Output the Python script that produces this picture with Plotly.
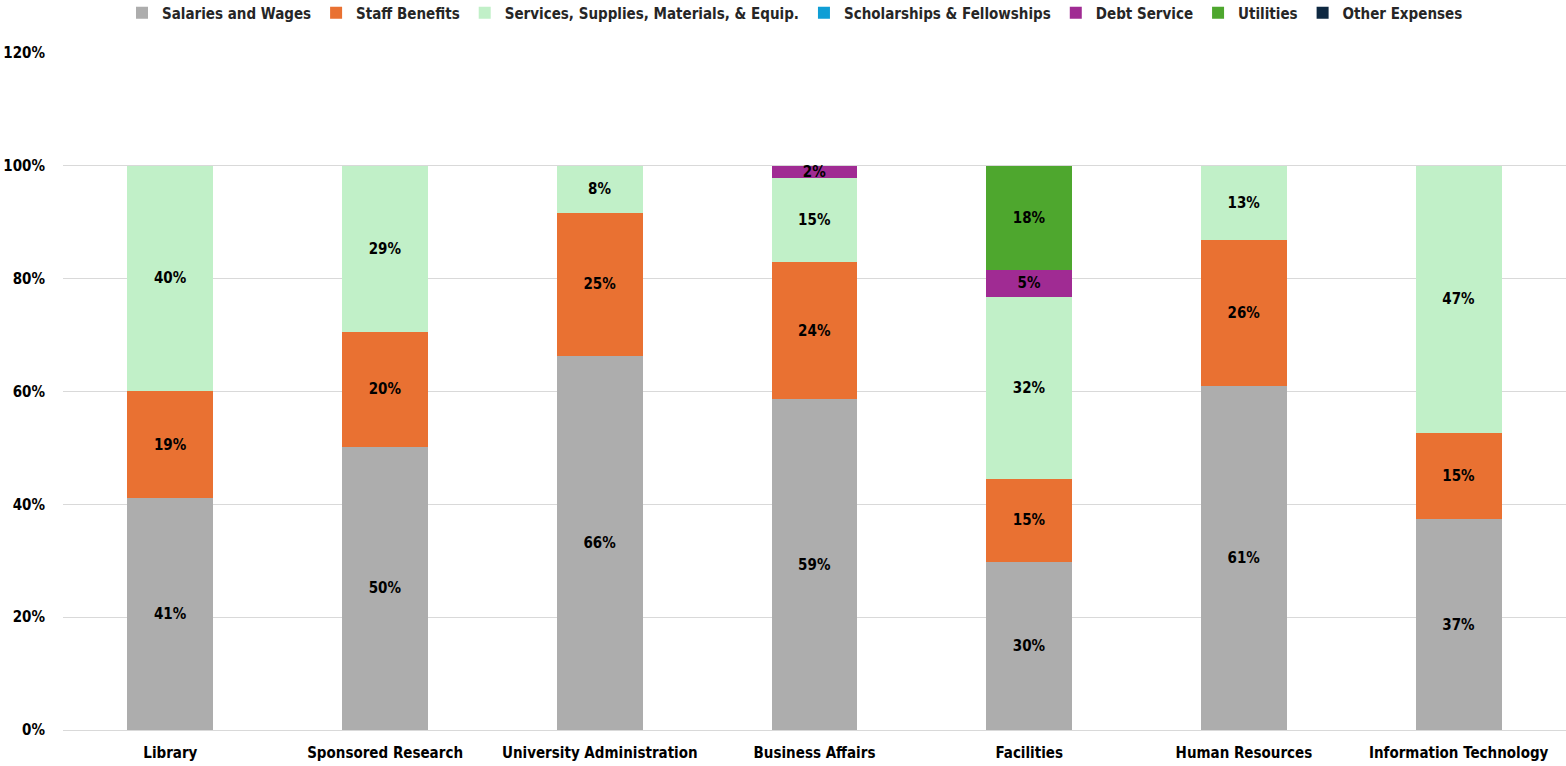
import plotly.graph_objects as go

categories = ["Library", "Sponsored Research", "University Administration", "Business Affairs",
              "Facilities", "Human Resources", "Information Technology"]

salaries = [41.1, 50.2, 66.3, 58.6, 29.8, 61.0, 37.4]
benefits = [19.0, 20.4, 25.4, 24.4, 14.7, 25.9, 15.3]
services = [39.9, 29.4, 8.3, 14.9, 32.3, 13.1, 47.3]
scholarships = [0, 0, 0, 0, 0, 0, 0]
debt = [0, 0, 0, 2.1, 4.8, 0, 0]
utilities = [0, 0, 0, 0, 18.4, 0, 0]
other = [0, 0, 0, 0, 0, 0, 0]

series_names = ["Salaries and Wages", "Staff Benefits", "Services, Supplies, Materials, & Equip.",
                "Scholarships & Fellowships", "Debt Service", "Utilities", "Other Expenses"]
series_values = [salaries, benefits, services, scholarships, debt, utilities, other]
colors = ["#ADADAD", "#E97132", "#C1F0C8", "#0F9ED5", "#A02B93", "#4EA72E", "#0E2841"]

W, H = 1566, 766
FONT = "Liberation Sans Narrow, Arial Narrow, DejaVu Sans Condensed, sans-serif"

fig = go.Figure()
for name, vals, col in zip(series_names, series_values, colors):
    fig.add_trace(go.Bar(
        x=categories,
        y=[v / 100 for v in vals],
        name=name,
        marker=dict(color=col, line=dict(width=0)),
        text=[f"{round(v):.0f}%" if v > 0 else "" for v in vals],
        textposition="inside",
        insidetextanchor="middle",
        textangle=0,
        textfont=dict(family=FONT, size=15, color="black", weight="bold"),
        hoverinfo="skip",
    ))

fig.update_layout(
    barmode="stack",
    bargap=0.6,
    width=W, height=H,
    margin=dict(l=63, r=0, t=53, b=36),
    paper_bgcolor="white",
    plot_bgcolor="white",
    uniformtext=dict(minsize=8, mode="show"),
    font=dict(family=FONT, size=15, color="black"),
    legend=dict(
        orientation="h",
        xref="container", yref="container",
        x=795 / W, xanchor="center",
        y=1 - 13 / H, yanchor="middle",
        font=dict(family=FONT, size=15, color="#262626", weight="bold"),
        bgcolor="rgba(0,0,0,0)",
        itemwidth=30,
        traceorder="normal",
    ),
)
fig.update_xaxes(
    showgrid=False, showline=False, ticks="",
    tickfont=dict(family=FONT, size=15, color="black", weight="bold"),
    ticklabelstandoff=12,
)
fig.update_yaxes(
    range=[0, 1.2], dtick=0.2, tickformat=".0%",
    showgrid=True, gridcolor="#D9D9D9", gridwidth=1,
    zeroline=True, zerolinecolor="#D9D9D9", zerolinewidth=1,
    showline=False, ticks="",
    tickfont=dict(family=FONT, size=15, color="black", weight="bold"),
    ticklabelstandoff=17,
)

fig.write_html("out.html")
